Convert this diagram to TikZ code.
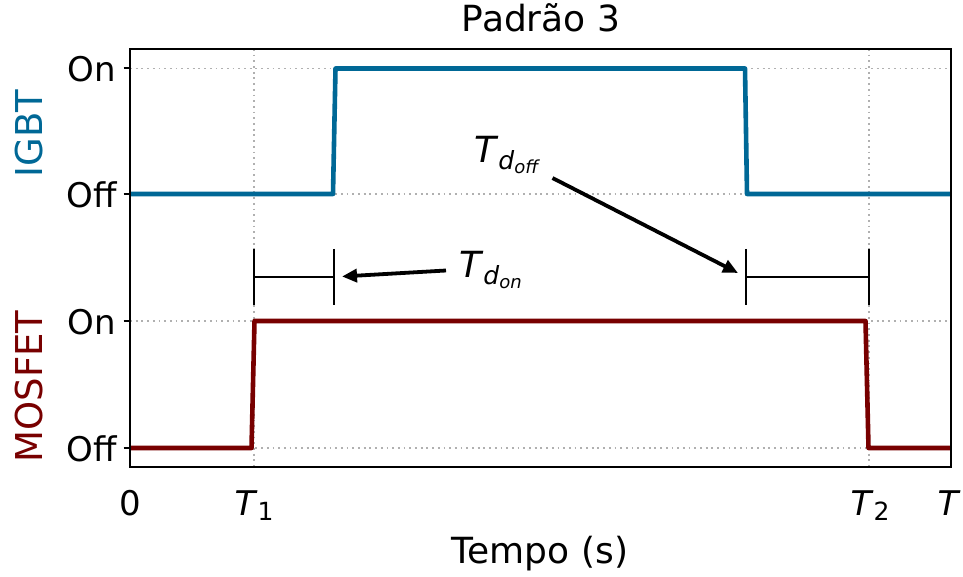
\documentclass[tikz,border=0pt]{standalone}
\usepackage{fontspec}
\setmainfont{DejaVu Sans}
\usetikzlibrary{arrows.meta}
\definecolor{igbtblue}{RGB}{0,104,150}
\definecolor{mosred}{RGB}{120,0,0}
\definecolor{gridgray}{RGB}{176,176,176}
\newcommand{\bigf}{\fontsize{36}{36}\selectfont}
\newcommand{\labf}{\fontsize{37}{37}\selectfont}
\newcommand{\tickf}{\fontsize{34}{34}\selectfont}
\newcommand{\subf}{\fontsize{25}{25}\selectfont}
\newcommand{\subsubf}{\fontsize{18}{18}\selectfont}
\begin{document}
\begin{tikzpicture}[x=1pt,y=-1pt,
  txt/.style={inner sep=0pt,outer sep=0pt},
  gridline/.style={draw=gridgray,line width=1.8pt,dash pattern=on 1.8pt off 3.9pt},
  sigline/.style={line width=4.6pt,line join=round},
  bracket/.style={line width=2pt},
  annarrow/.style={line width=3.8pt,-{Triangle[length=15pt,width=13pt]}},
  axisline/.style={line width=2pt},
  ticklab/.style={txt,anchor=base east},
  xticklab/.style={txt,anchor=base}]
\useasboundingbox (0,0) rectangle (963,577);
% grid
\foreach \yy in {68.5,194,321,448}
  \draw[gridline] (130,\yy) -- (950.5,\yy);
\foreach \xx in {253.7,869}
  \draw[gridline] (\xx,49) -- (\xx,467);
% signals
\draw[sigline,igbtblue] (130,194) -- (333,194) -- (335.5,68.5) -- (745,68.5) -- (747,194) -- (950,194);
\draw[sigline,mosred] (130,448) -- (251.5,448) -- (254.5,321) -- (865.5,321) -- (868.5,448) -- (950,448);
% axes box
\draw[axisline] (130,49) rectangle (950.5,467);
% y ticks
\foreach \yy in {68.5,194,321,448}
  \draw[axisline] (123.5,\yy) -- (130,\yy);
% tick labels
\node[ticklab] (on1) at (116,82) {\tickf On};
\node[ticklab] (off1) at (117,207.5) {\tickf Off};
\node[ticklab] (on2) at (116,334.5) {\tickf On};
\node[ticklab] (off2) at (117,461.5) {\tickf Off};
\node[xticklab] (x0) at (130,515) {\tickf 0};
\node[xticklab] (x1) at (254,515) {\tickf\textit{T}\raisebox{-5pt}{\subf 1}};
\node[xticklab] (x2) at (870,515) {\tickf\textit{T}\raisebox{-5pt}{\subf 2}};
\node[xticklab] (x3) at (949,515) {\tickf\textit{T}};
% axis labels
\node[txt,anchor=base,rotate=90,text=igbtblue] (ylab1) at (42,133.5) {\labf IGBT};
\node[txt,anchor=base,rotate=90,text=mosred] (ylab2) at (42,386.5) {\labf MOSFET};
\node[txt,anchor=base] (xlab) at (540,563) {\bigf Tempo (s)};
\node[txt,anchor=base] (title) at (541,32) {\bigf Padrão 3};
% brackets
\draw[bracket] (253.7,249) -- (253.7,305);
\draw[bracket] (334,249) -- (334,305);
\draw[bracket] (253.7,277) -- (334,277);
\draw[bracket] (745.7,249) -- (745.7,305);
\draw[bracket] (869,249) -- (869,305);
\draw[bracket] (745.7,277) -- (869,277);
% annotations
\node[txt,anchor=base west] (tdon) at (459,277) {\bigf\textit{T}\raisebox{-7pt}{\subf\textit{d}\raisebox{-4pt}{\subsubf\textit{on}}}};
\node[txt,anchor=base west] (tdoff) at (474,163) {\bigf\textit{T}\raisebox{-7pt}{\subf\textit{d}\raisebox{-4pt}{\subsubf\textit{off}}}};
\coordinate (donstart) at (446,270.5);
\coordinate (donend) at (342,276.5);
\coordinate (doffstart) at (552.5,178);
\coordinate (doffend) at (738,273);
\draw[annarrow] (donstart) -- (donend);
\draw[annarrow] (doffstart) -- (doffend);
\end{tikzpicture}
\end{document}
